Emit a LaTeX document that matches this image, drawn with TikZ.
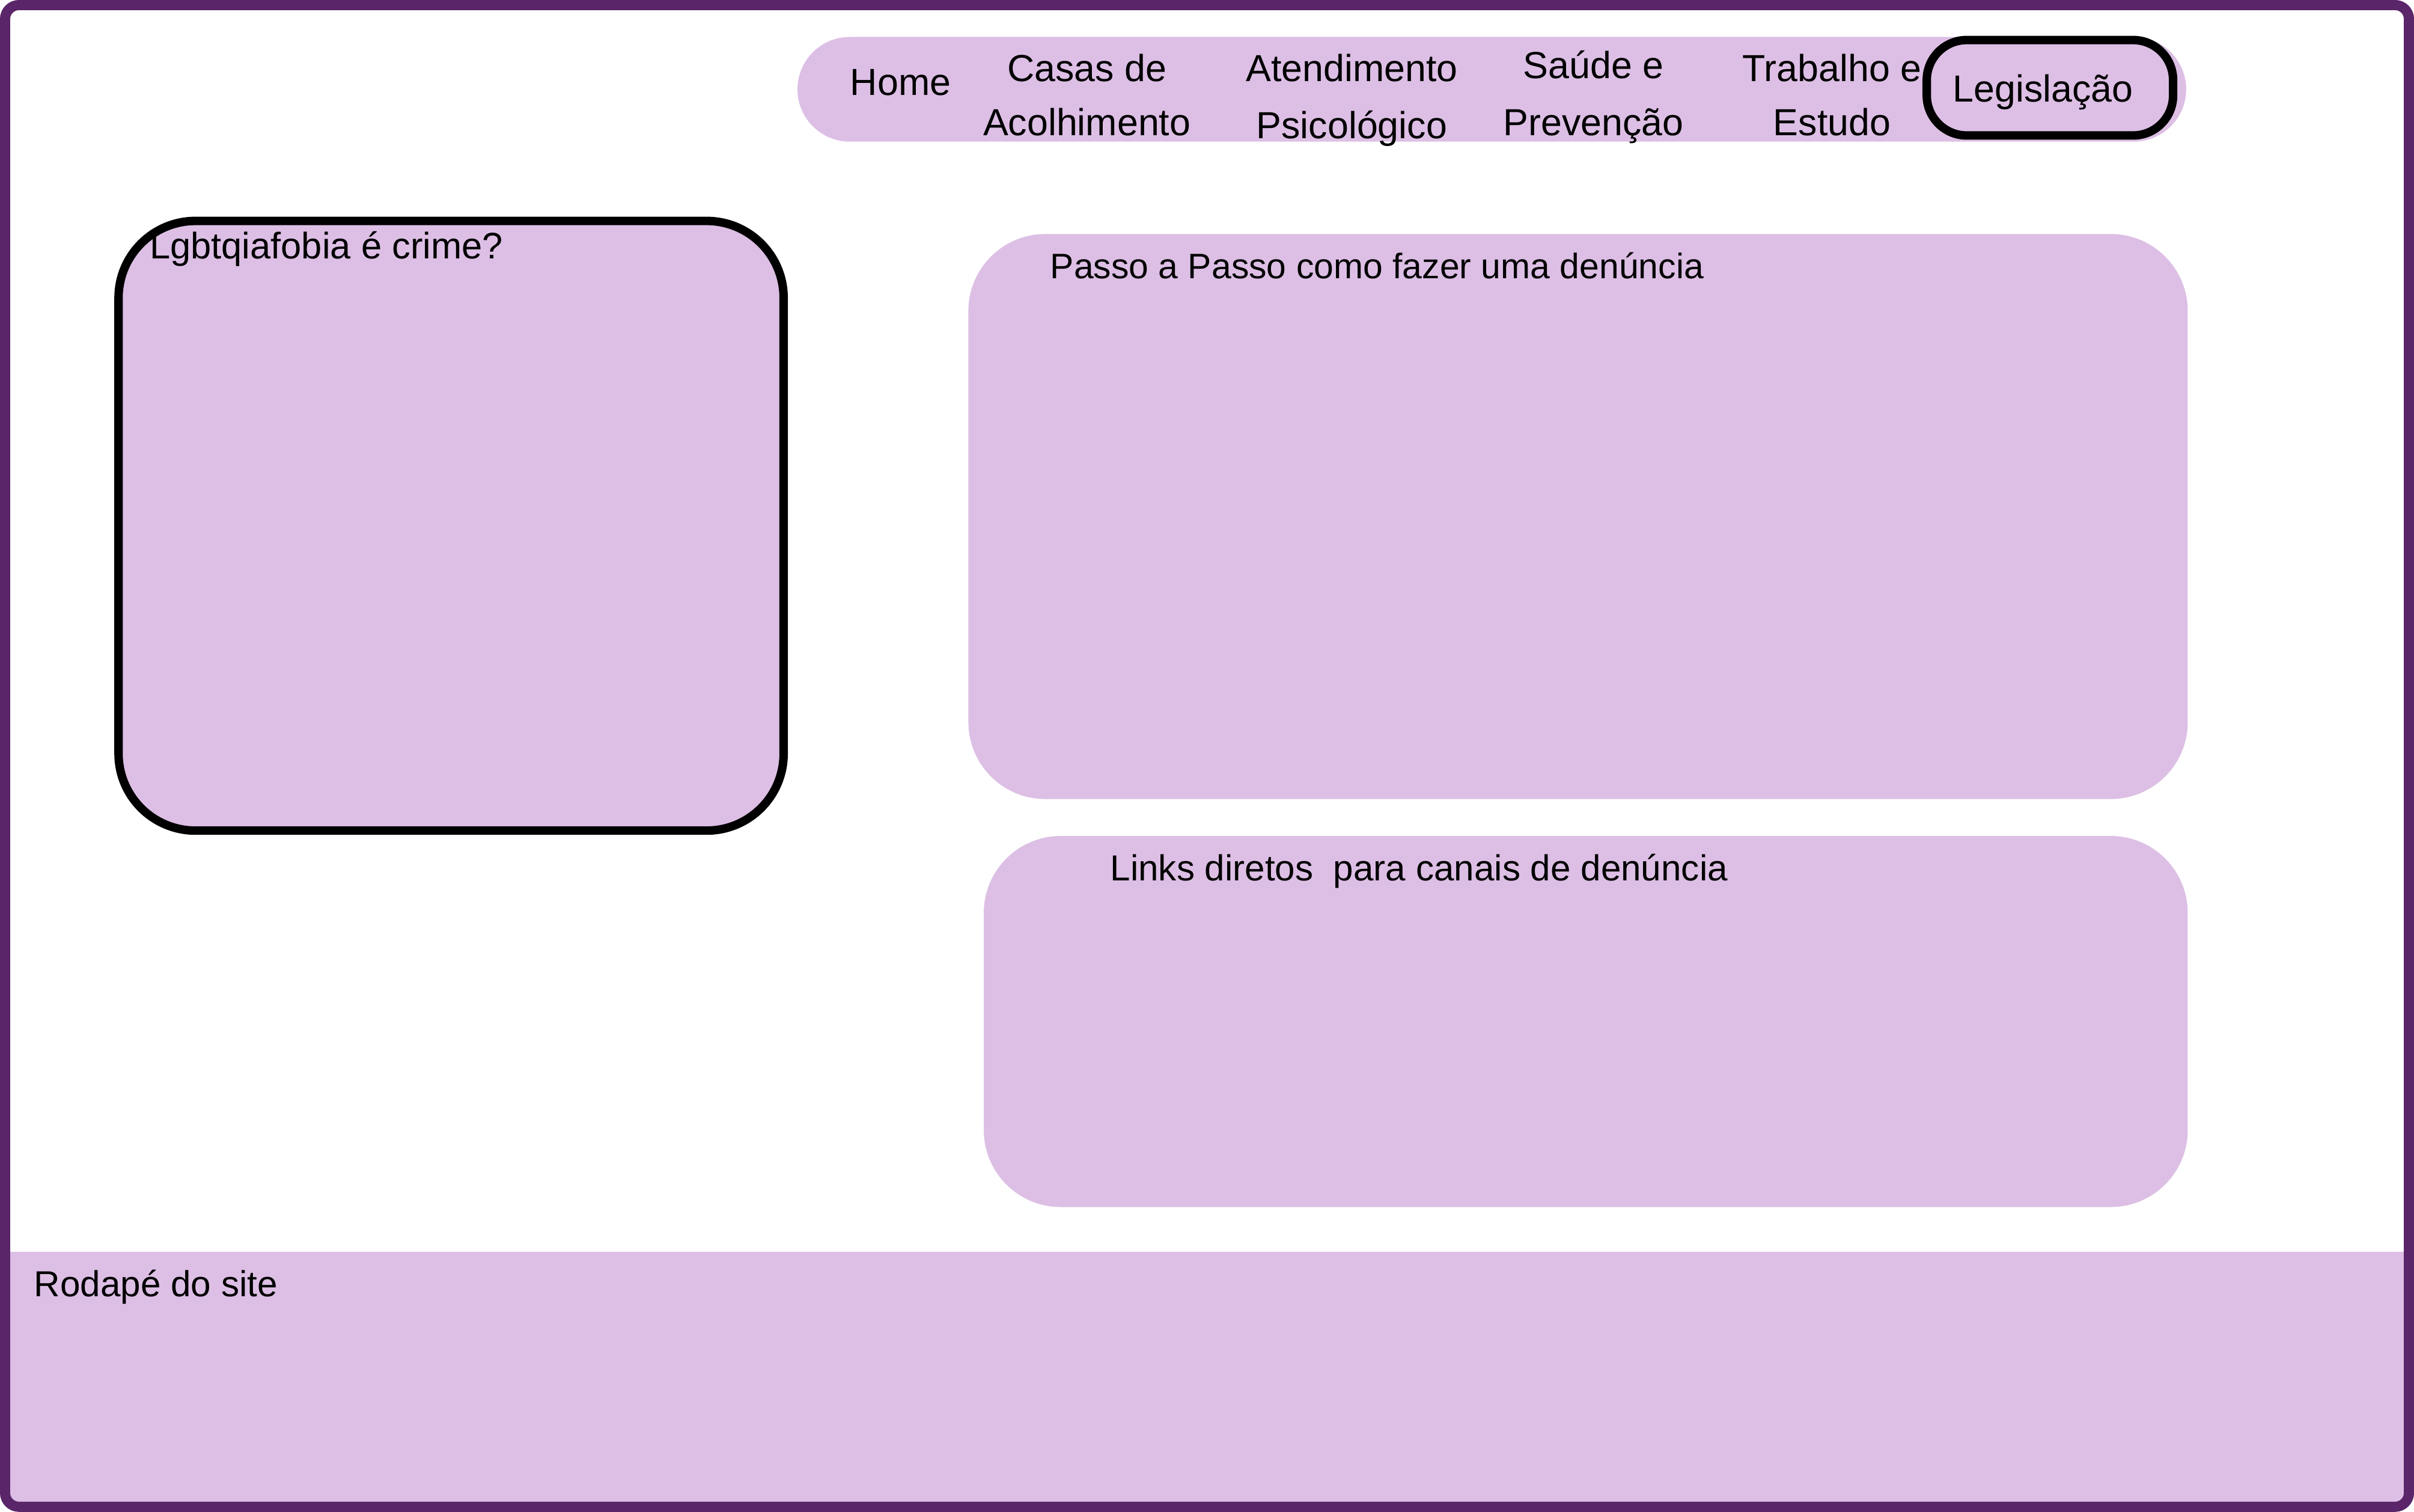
\documentclass[tikz,border=0pt]{standalone}
\usepackage{fontspec}
\setmainfont{Liberation Sans}
\usepackage{tikz}
\usetikzlibrary{positioning}
\definecolor{lilac}{HTML}{DDBFE5}
\definecolor{framepurple}{HTML}{5A2569}

\begin{document}
\begin{tikzpicture}[x=1pt, y=-1pt, every node/.style={font=\fontsize{24}{30}\selectfont, inner sep=0pt}]
	\tikzstyle{panel}=[fill=lilac, rounded corners=50pt, anchor=center]
	\tikzstyle{outlined}=[draw=black, line width=5.5pt]
	\tikzstyle{navtext}=[anchor=base, text=black, font=\fontsize{24.5}{30}\selectfont]
	\tikzstyle{boxtext}=[anchor=base west, text=black]
	\useasboundingbox (0,0) rectangle (1568,982);

	% rodape
	\fill[lilac] (5,813) rectangle (1563,977);
	\node[boxtext, font=\fontsize{23.5}{30}\selectfont] (rodape) at (22,842) {Rodapé do site};

	% menu
	\node[panel, minimum width=902pt, minimum height=68pt, rounded corners=34pt] (navbar) at (969,58) {};
	\node[panel, outlined, minimum width=160pt, minimum height=62pt, rounded corners=26pt] (legis) at (1331.5,57) {};
	\node[navtext] (home)      at (585,62)  {Home};
	\node[navtext] (casas)     at (706,53)  {Casas de};
	\node[navtext] (casasb)    at (706,88)  {Acolhimento};
	\node[navtext] (atend)     at (878,53)  {Atendimento};
	\node[navtext] (atendb)    at (878,90)  {Psicológico};
	\node[navtext] (saude)     at (1035,51) {Saúde e};
	\node[navtext] (saudeb)    at (1035,88) {Prevenção};
	\node[navtext] (trab)      at (1190,53) {Trabalho e};
	\node[navtext] (trabb)     at (1190,88) {Estudo};
	\node[navtext] (legistext) at (1327,66) {Legislação};

	% caixas
	\node[panel, outlined, minimum width=432pt, minimum height=396pt] (crime) at (293,341.5) {};
	\node[boxtext] (crimetext) at (97,168) {Lgbtqiafobia é crime?};
	\node[panel, minimum width=792pt, minimum height=367pt] (passo) at (1025,335.5) {};
	\node[boxtext, font=\fontsize{23}{30}\selectfont] (passotext) at (682,181) {Passo a Passo como fazer uma denúncia};
	\node[panel, minimum width=782pt, minimum height=241pt] (links) at (1030,663.5) {};
	\node[boxtext, font=\fontsize{23.5}{30}\selectfont] (linkstext) at (721,572) {Links diretos\ \ para canais de denúncia};

	% moldura
	\draw[framepurple, line width=6.6pt, rounded corners=9pt] (3.3,3.3) rectangle (1564.7,978.7);
\end{tikzpicture}
\end{document}
